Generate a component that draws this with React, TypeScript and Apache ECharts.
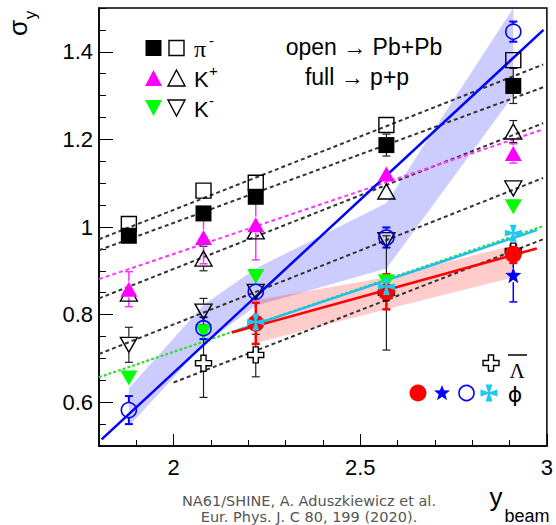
import React, { useEffect, useRef } from "react";
import * as echarts from "echarts";

// ---------- data ----------
const yBeam = [1.88, 2.08, 2.22, 2.57, 2.91];

// pi- p+p (full square) / Pb+Pb (open square)
const piPP = [0.98, 1.031, 1.069, 1.187, 1.322];
const piPPErr = [0.008, 0.008, 0.008, 0.025, 0.04];
const piPbPb = [1.007, 1.083, 1.101, 1.233, 1.381];
const piPbPbErr = [0.004, 0.004, 0.004, 0.004, 0.004];

// K+ p+p (full up-triangle) / Pb+Pb (open up-triangle)
const kpPP = [0.858, 0.976, 1.005, 1.121, 1.168];
const kpPPErr = [0.04, 0.06, 0.08, 0.01, 0.022];
const kpPbPb = [0.848, 0.928, 0.99, 1.081, 1.218];
const kpPbPbErr = [0.01, 0.028, 0.01, 0.01, 0.025];

// K- p+p (full down-triangle) / Pb+Pb (open down-triangle)
const kmPP = [0.655, 0.761, 0.887, 0.875, 1.046];
const kmPPErr = [0.006, 0.006, 0.006, 0.006, 0.006];
const kmPbPb = [0.731, 0.807, 0.852, 0.97, 1.088];
const kmPbPbErr = [0.04, 0.03, 0.01, 0.01, 0.01];

// anti-Lambda Pb+Pb (open cross)
const lamX = [2.08, 2.22, 2.57, 2.91];
const lamPbPb = [0.689, 0.708, 0.85, 0.945];
const lamLow = [0.611, 0.658, 0.719, 0.93];
const lamHigh = [0.765, 0.755, 0.98, 0.96];

// phi
const phiX = [2.22, 2.57, 2.91];
const phiPP = [0.78, 0.852, 0.938]; // red full circle
const phiPPErr = [0.047, 0.04, 0.02];
const phiCyan = [0.783, 0.864, 0.986]; // cyan cross
const phiCyanErr = [0.006, 0.006, 0.006];
const phiStarX = [2.91];
const phiStar = [0.89]; // blue star
const phiStarLow = [0.829];
const phiStarHigh = [0.93];
const phiPbPb = [0.582, 0.769, 0.852, 0.976, 1.446]; // blue open circle
const phiPbPbErr = [0.032, 0.025, 0.012, 0.023, 0.023];

// bands
const bandPbLow = [0.545, 0.731, 0.82, 0.905, 1.3];
const bandPbHigh = [0.632, 0.822, 0.905, 1.055, 1.5];
const bandPpX = [2.22, 2.57, 2.91];
const bandPpLow = [0.735, 0.812, 0.885];
const bandPpHigh = [0.833, 0.885, 0.958];

// fit lines
const fitX = [1.8, 2.99];
const fitPiPbPb = [0.972, 1.371];
const fitPiPP = [0.947, 1.319];
const fitKpPbPb = [0.837, 1.237];
const fitKmPbPb = [0.71, 1.112];
const fitKpPP = [0.881, 1.223];
const fitKmPP = [0.657, 1.002];
const fitLamX = [2.0, 2.99];
const fitLam = [0.645, 0.972];
const fitPhiPbPbX = [1.807, 2.991];
const fitPhiPbPb = [0.515, 1.45];
const fitPhiPPX = [2.156, 2.973];
const fitPhiPP = [0.759, 0.951];
const fitPhiCyan = [0.76, 0.993];

// ticks
const xTickLabels = [2, 2.5, 3];
const yTickLabels = [0.6, 0.8, 1, 1.2, 1.4];

// ---------- helpers ----------
const FONT = "Liberation Sans, Arial, sans-serif";
const SERIF = "Liberation Serif, Times New Roman, serif";

const STAR = "M50,0 L63,33 L100,35 L71,58 L81,95 L50,74 L19,95 L29,58 L0,35 L37,33 Z";
const PATTEE = "M30,0 L70,0 L56,44 L100,30 L100,70 L56,56 L70,100 L30,100 L44,56 L0,70 L0,30 L44,44 Z";
const PLUS = "M34,0 L66,0 L66,34 L100,34 L100,66 L66,66 L66,100 L34,100 L34,66 L0,66 L0,34 L34,34 Z";

const starPts = [[50,0],[63,33],[100,35],[71,58],[81,95],[50,74],[19,95],[29,58],[0,35],[37,33]];
const patteePts = [[30,0],[70,0],[56,44],[100,30],[100,70],[56,56],[70,100],[30,100],[44,56],[0,70],[0,30],[44,44]];
const plusPts = [[34,0],[66,0],[66,34],[100,34],[100,66],[66,66],[66,100],[34,100],[34,66],[0,66],[0,34],[34,34]];
const scalePts = (p: number[][], cx: number, cy: number, s: number) =>
  p.map(([a, b]) => [cx + (a / 100 - 0.5) * s, cy + (b / 100 - 0.5) * s]);

const pairs = (xs: number[], ys: number[]) => xs.map((x, i) => [x, ys[i]]);

function scatter(xs: number[], ys: number[], symbol: string, size: any, color: string, border: string, bw: number, z: number, rotate = 0) {
  return {
    type: "scatter",
    data: pairs(xs, ys),
    symbol,
    symbolSize: size,
    symbolRotate: rotate,
    itemStyle: { color, borderColor: border, borderWidth: bw, opacity: 1 },
    z,
    silent: true,
  };
}

// error bars; the part inside the marker (half-size gap, px) is skipped
function errBars(xs: number[], ys: number[], lo: number[], hi: number[], color: string, width: number, z: number, gap: number) {
  return {
    type: "custom",
    data: xs.map((x, i) => [x, ys[i], lo[i], hi[i]]),
    encode: { x: 0, y: 1 },
    z,
    silent: true,
    renderItem: (params: any, api: any) => {
      const x = api.value(0);
      const pc = api.coord([x, api.value(1)]);
      const p1 = api.coord([x, api.value(2)]);
      const p2 = api.coord([x, api.value(3)]);
      const c = 4;
      const st = { stroke: color, lineWidth: width };
      const children: any[] = [];
      if (p1[1] - pc[1] > gap) {
        children.push({ type: "line", shape: { x1: pc[0], y1: pc[1] + gap, x2: p1[0], y2: p1[1] }, style: st });
        children.push({ type: "line", shape: { x1: p1[0] - c, y1: p1[1], x2: p1[0] + c, y2: p1[1] }, style: st });
      }
      if (pc[1] - p2[1] > gap) {
        children.push({ type: "line", shape: { x1: pc[0], y1: pc[1] - gap, x2: p2[0], y2: p2[1] }, style: st });
        children.push({ type: "line", shape: { x1: p2[0] - c, y1: p2[1], x2: p2[0] + c, y2: p2[1] }, style: st });
      }
      return { type: "group", children };
    },
  };
}
const symErr = (ys: number[], e: number[]) => [ys.map((y, i) => y - e[i]), ys.map((y, i) => y + e[i])];

function band(xs: number[], lo: number[], hi: number[], fill: string, z: number) {
  return {
    type: "custom",
    data: [[xs[0], lo[0]]],
    encode: { x: 0, y: 1 },
    z,
    silent: true,
    renderItem: (params: any, api: any) => {
      const top = xs.map((x, i) => api.coord([x, hi[i]]));
      const bot = xs.map((x, i) => api.coord([x, lo[i]])).reverse();
      return { type: "polygon", shape: { points: [...top, ...bot] }, style: { fill } };
    },
  };
}

function fitLine(xs: number[], ys: number[], color: string, width: number, dash: any, z: number) {
  return {
    type: "line",
    data: pairs(xs, ys),
    symbol: "none",
    showSymbol: false,
    lineStyle: { color, width, type: dash },
    z,
    silent: true,
  };
}

export default function App() {
  const ref = useRef<HTMLDivElement>(null);
  useEffect(() => {
    if (!ref.current) return;
    const chart = echarts.init(ref.current, undefined, { renderer: "svg" });
    const black = "#222";
    const [piPPLo, piPPHi] = symErr(piPP, piPPErr);
    const [piPbLo, piPbHi] = symErr(piPbPb, piPbPbErr);
    const [kpPPLo, kpPPHi] = symErr(kpPP, kpPPErr);
    const [kpPbLo, kpPbHi] = symErr(kpPbPb, kpPbPbErr);
    const [kmPPLo, kmPPHi] = symErr(kmPP, kmPPErr);
    const [kmPbLo, kmPbHi] = symErr(kmPbPb, kmPbPbErr);
    const [phPPLo, phPPHi] = symErr(phiPP, phiPPErr);
    const [phCyLo, phCyHi] = symErr(phiCyan, phiCyanErr);
    const [phPbLo, phPbHi] = symErr(phiPbPb, phiPbPbErr);

    const series: any[] = [
      band(yBeam, bandPbLow, bandPbHigh, "rgba(0,0,255,0.2)", 1),
      band(bandPpX, bandPpLow, bandPpHigh, "rgba(255,0,0,0.2)", 1),
      fitLine(fitX, fitPiPbPb, "#333", 2, [4, 3], 2),
      fitLine(fitX, fitPiPP, "#333", 2, [4, 3], 2),
      fitLine(fitX, fitKpPbPb, "#333", 2, [4, 3], 2),
      fitLine(fitX, fitKmPbPb, "#333", 2, [4, 3], 2),
      fitLine(fitLamX, fitLam, "#333", 2, [4, 3], 2),
      fitLine(fitX, fitKpPP, "#ff33ff", 2, [4, 3], 2),
      fitLine(fitX, fitKmPP, "#33dd33", 2.2, [3, 2], 2),
      fitLine(fitPhiPPX, fitPhiCyan, "#1ebff0", 2.5, "solid", 2),
      fitLine(fitPhiPPX, fitPhiPP, "#ff0000", 2.5, "solid", 2),
      fitLine(fitPhiPbPbX, fitPhiPbPb, "#0000ff", 2.5, "solid", 2),
      // error bars
      errBars(lamX, lamPbPb, lamLow, lamHigh, black, 1.2, 3, 8),
      errBars(yBeam, piPbPb, piPbLo, piPbHi, black, 1.2, 3, 8),
      errBars(yBeam, piPP, piPPLo, piPPHi, black, 1.2, 3, 8),
      errBars(yBeam, kpPbPb, kpPbLo, kpPbHi, black, 1.2, 3, 8),
      errBars(yBeam, kmPbPb, kmPbLo, kmPbHi, black, 1.2, 3, 8),
      errBars(yBeam, kmPP, kmPPLo, kmPPHi, "#00dd00", 1.5, 3, 8),
      errBars(yBeam, kpPP, kpPPLo, kpPPHi, "#ff33ff", 1.5, 3, 8),
      errBars(yBeam, phiPbPb, phPbLo, phPbHi, "#0000ff", 2, 3, 8),
      errBars(phiStarX, phiStar, phiStarLow, phiStarHigh, "#0000ff", 1.5, 3, 7),
      errBars(phiX, phiPP, phPPLo, phPPHi, "#ff0000", 2.5, 3, 8),
      errBars(phiX, phiCyan, phCyLo, phCyHi, "#1ec8f0", 2, 3, 8),
      // markers
      scatter(lamX, lamPbPb, "path://" + PLUS, 16, "#ffffff", "#000", 1.4, 4),
      scatter(yBeam, piPbPb, "rect", 15, "rgba(0,0,0,0)", "#000", 1.4, 4),
      scatter(yBeam, piPP, "rect", 16, "#000", "#000", 0, 5),
      scatter(yBeam, kpPbPb, "triangle", [17, 15], "rgba(0,0,0,0)", "#000", 1.4, 4),
      scatter(yBeam, kpPP, "triangle", [17, 15], "#ff00ff", "#ff00ff", 0, 5),
      scatter(yBeam, kmPbPb, "triangle", [17, 15], "rgba(0,0,0,0)", "#000", 1.4, 4, 180),
      scatter(yBeam, kmPP, "triangle", [17, 15], "#00ff00", "#00ff00", 0, 5, 180),
      scatter(yBeam, phiPbPb, "circle", 15, "rgba(0,0,0,0)", "#0000ff", 1.6, 6),
      scatter(phiX, phiPP, "circle", 17, "#ff0000", "#ff0000", 0, 6),
      scatter(phiStarX, phiStar, "path://" + STAR, 16, "#0000ff", "#0000ff", 0, 6),
      scatter(phiX, phiCyan, "path://" + PATTEE, 17, "#1ec8f0", "#1ec8f0", 0, 7),
    ];

    const axisTxt = { fontSize: 22, color: "#000", fontFamily: FONT };
    const fmt = (v: number) => String(Math.round(v * 10) / 10);

    const legendText = (text: string, x: number, y: number, size: number, font = FONT, align = "left") => ({
      type: "text",
      x,
      y,
      z: 100,
      style: { text, fontSize: size, fontFamily: font, fill: "#000", align, verticalAlign: "middle" },
    });

    const graphic: any[] = [
      // y title (rotated)
      { type: "text", x: 18, y: 28, rotation: Math.PI / 2, style: { text: "σ", fontSize: 26, fontFamily: FONT, fill: "#000", align: "center", verticalAlign: "middle" } },
      { type: "text", x: 30, y: 15, rotation: Math.PI / 2, style: { text: "y", fontSize: 17, fontFamily: FONT, fill: "#000", align: "center", verticalAlign: "middle" } },
      // x title
      legendText("y", 496, 497, 26, FONT, "center"),
      legendText("beam", 527, 516, 18, FONT, "center"),
      // citation
      { type: "text", x: 309, y: 501, style: { text: "NA61/SHINE, A. Aduszkiewicz et al.", fontSize: 14.5, fontFamily: "DejaVu Sans", fill: "#555", align: "center", verticalAlign: "middle" } },
      { type: "text", x: 309, y: 517, style: { text: "Eur. Phys. J. C 80, 199 (2020).", fontSize: 14.5, fontFamily: "DejaVu Sans", fill: "#555", align: "center", verticalAlign: "middle" } },
      // top-left legend
      { type: "rect", z: 100, shape: { x: 145.5, y: 40, width: 16, height: 16 }, style: { fill: "#000" } },
      { type: "rect", z: 100, shape: { x: 169, y: 40.5, width: 15, height: 15 }, style: { fill: "none", stroke: "#000", lineWidth: 1.4 } },
      legendText("π", 194, 49, 24, SERIF),
      legendText("-", 209, 40, 15),
      { type: "polygon", z: 100, shape: { points: [[153.5, 70], [162, 86], [145, 86]] }, style: { fill: "#ff00ff" } },
      { type: "polygon", z: 100, shape: { points: [[176.5, 70], [185, 86], [168, 86]] }, style: { fill: "none", stroke: "#000", lineWidth: 1.4 } },
      legendText("K", 194, 79, 22),
      legendText("+", 209, 70, 15),
      { type: "polygon", z: 100, shape: { points: [[145, 100], [162, 100], [153.5, 116]] }, style: { fill: "#00ff00" } },
      { type: "polygon", z: 100, shape: { points: [[168, 100], [185, 100], [176.5, 116]] }, style: { fill: "none", stroke: "#000", lineWidth: 1.4 } },
      legendText("K", 194, 109, 22),
      legendText("-", 209, 100, 15),
      // top-right annotation
      legendText("open → Pb+Pb", 364, 47, 23, FONT, "center"),
      legendText("full → p+p", 357, 77, 23, FONT, "center"),
      // bottom-right legend
      { type: "polygon", z: 100, shape: { points: scalePts(plusPts, 491, 363, 16) }, style: { fill: "#fff", stroke: "#000", lineWidth: 1.4 } },
      legendText("Λ", 517, 371, 21, SERIF, "center"),
      { type: "line", z: 100, shape: { x1: 508, y1: 355, x2: 527, y2: 355 }, style: { stroke: "#000", lineWidth: 1.5 } },
      { type: "circle", z: 100, shape: { cx: 418, cy: 393, r: 8.5 }, style: { fill: "#ff0000" } },
      { type: "polygon", z: 100, shape: { points: scalePts(starPts, 442, 393, 16) }, style: { fill: "#0000ff" } },
      { type: "circle", z: 100, shape: { cx: 466.5, cy: 393, r: 7.5 }, style: { fill: "none", stroke: "#0000ff", lineWidth: 1.6 } },
      { type: "polygon", z: 100, shape: { points: scalePts(patteePts, 489, 393, 17) }, style: { fill: "#1ec8f0" } },
      legendText("ϕ", 515, 394, 22, "DejaVu Sans", "center"),
    ];

    chart.setOption({
      animation: false,
      backgroundColor: "#fff",
      grid: { left: 99, right: 5, top: 8, bottom: 79, show: true, borderColor: "#000", borderWidth: 1.5, backgroundColor: "transparent", containLabel: false },
      xAxis: [
        {
          type: "value", min: 1.8, max: 3.0, interval: 0.1, position: "bottom",
          axisLine: { show: true, onZero: false, lineStyle: { color: "#000", width: 1.5 } },
          axisTick: { show: true, inside: true, length: 6, lineStyle: { color: "#000", width: 1 } },
          axisLabel: { show: true, customValues: xTickLabels, formatter: fmt, margin: 10, ...axisTxt },
          splitLine: { show: false },
        },
        {
          type: "value", min: 1.8, max: 3.0, position: "bottom",
          axisLine: { show: false },
          axisTick: { show: true, inside: true, length: 12, customValues: xTickLabels, lineStyle: { color: "#000", width: 1 } },
          axisLabel: { show: false },
          splitLine: { show: false },
        },
      ],
      yAxis: [
        {
          type: "value", min: 0.5, max: 1.5, interval: 0.05, position: "left",
          axisLine: { show: true, onZero: false, lineStyle: { color: "#000", width: 1.5 } },
          axisTick: { show: true, inside: true, length: 7, lineStyle: { color: "#000", width: 1 } },
          axisLabel: { show: true, customValues: yTickLabels, formatter: fmt, margin: 6, ...axisTxt },
          splitLine: { show: false },
        },
        {
          type: "value", min: 0.5, max: 1.5, position: "left",
          axisLine: { show: false },
          axisTick: { show: true, inside: true, length: 14, customValues: yTickLabels, lineStyle: { color: "#000", width: 1 } },
          axisLabel: { show: false },
          splitLine: { show: false },
        },
      ],
      series,
      graphic,
    });
    return () => chart.dispose();
  }, []);
  return <div ref={ref} style={{ position: "fixed", left: 0, top: 0, width: 556, height: 525 }} />;
}
